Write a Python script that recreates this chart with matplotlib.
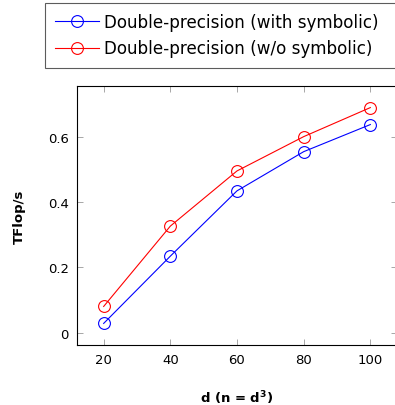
import matplotlib
matplotlib.use("Agg")
import matplotlib.pyplot as plt

d_values = [20, 40, 60, 80, 100]
with_symbolic = [0.028, 0.234, 0.434, 0.554, 0.637]
without_symbolic = [0.080, 0.326, 0.495, 0.600, 0.689]
labels = ["Double-precision (with symbolic)", "Double-precision (w/o symbolic)"]
yticks = [0, 0.2, 0.4, 0.6]
yticklabels = ["0", "0.2", "0.4", "0.6"]

plt.rcParams['font.family'] = ['DejaVu Sans']
plt.rcParams['mathtext.fontset'] = 'dejavusans'
plt.rcParams['mathtext.default'] = 'bf'

fig = plt.figure(figsize=(3.95, 4.06), dpi=100)
ax = fig.add_axes([77/395, 60/406, 320/395, 259/406])

l1, = ax.plot(d_values, with_symbolic, color='blue', lw=0.8, marker='o',
              markersize=8.5, markerfacecolor='none', markeredgewidth=0.8)
l2, = ax.plot(d_values, without_symbolic, color='red', lw=0.8, marker='o',
              markersize=8.5, markerfacecolor='none', markeredgewidth=0.8)

ax.set_xlim(12, 108)
ax.set_ylim(-0.0381, 0.7551)
ax.set_xticks(d_values)
ax.set_yticks(yticks)
ax.set_yticklabels(yticklabels)
ax.tick_params(direction='in', length=4.5, width=0.6, color='#999999',
               top=True, right=True, labelsize=9.5, pad=6)
for s in ax.spines.values():
    s.set_linewidth(0.8)

ax.set_ylabel("TFlop/s", fontweight='bold', fontsize=9.5, labelpad=16)
ax.set_xlabel("d (n = d$^3$)", fontweight='bold', fontsize=9.5, labelpad=16)

leg = fig.legend([l1, l2], labels, loc='upper left',
                 bbox_to_anchor=(45/395, 1 - 67/406, 360/395, 63/406), mode='expand',
                 bbox_transform=fig.transFigure, fontsize=12.1, frameon=True,
                 fancybox=False, edgecolor='#333333', handlelength=2.6,
                 borderpad=0.6, labelspacing=0.5, handletextpad=0.3, borderaxespad=0)
leg.get_frame().set_linewidth(0.8)

fig.savefig("out.png", dpi=100)
